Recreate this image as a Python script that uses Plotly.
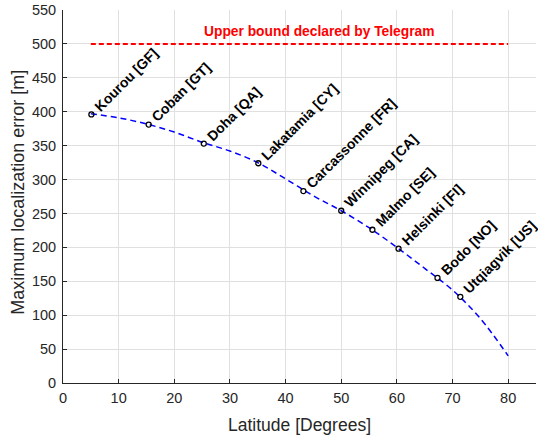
import plotly.graph_objects as go

# Cities: latitude [deg] and maximum localization error [m]
cities = ["Kourou [GF]", "Coban [GT]", "Doha [QA]", "Lakatamia [CY]",
          "Carcassonne [FR]", "Winnipeg [CA]", "Malmo [SE]", "Helsinki [FI]",
          "Bodo [NO]", "Utqiagvik [US]"]
city_lat = [5.1, 15.4, 25.3, 35.1, 43.2, 50.0, 55.6, 60.3, 67.3, 71.4]
city_err = [396, 381, 353, 324, 283, 254, 226, 198, 155, 127]

# Error trend versus latitude
curve_lat = [5, 10, 15, 20, 25, 30, 35, 40, 45, 50, 55, 60, 65, 70, 75, 80]
curve_err = [397, 391, 382, 370, 355, 342, 325, 301, 276, 254, 229, 200, 169, 137, 95, 40]

# Declared upper bound
bound_lat = [5, 80]
bound_err = [500, 500]
bound_label = "Upper bound declared by Telegram"

x_ticks = [0, 10, 20, 30, 40, 50, 60, 70, 80]
y_ticks = list(range(0, 551, 50))

FONT = "Liberation Sans, Arial, sans-serif"
AX = "#262626"
GRID = "#e0e0e0"

fig = go.Figure()

fig.add_trace(go.Scatter(
    x=bound_lat, y=bound_err, mode="lines",
    line=dict(color="#ff0000", width=2, dash="5px,3px"),
    hoverinfo="skip", showlegend=False))

fig.add_trace(go.Scatter(
    x=curve_lat, y=curve_err, mode="lines",
    line=dict(color="#0000ff", width=1.5, dash="6px,4px", shape="spline", smoothing=1.0),
    hoverinfo="skip", showlegend=False))

fig.add_trace(go.Scatter(
    x=city_lat, y=city_err, mode="markers",
    marker=dict(symbol="circle-open", size=5, color="black", line=dict(width=1.3)),
    text=cities, showlegend=False))

annotations = []
for name, lx, ly in zip(cities, city_lat, city_err):
    annotations.append(dict(
        x=lx, y=ly, xref="x", yref="y", text="<b>%s</b>" % name,
        showarrow=False, textangle=-45, xanchor="left", yanchor="bottom",
        xshift=-1.5, yshift=-1.5, borderpad=0,
        font=dict(family=FONT, size=14, color="black")))

annotations.append(dict(
    x=25.2, y=517.6, xref="x", yref="y", text="<b>%s</b>" % bound_label,
    showarrow=False, xanchor="left", yanchor="middle", borderpad=0,
    font=dict(family=FONT, size=13.8, color="#ff0000")))

# Axis titles
annotations.append(dict(
    x=0.5, y=-0.112, xref="paper", yref="paper", text="Latitude [Degrees]",
    showarrow=False, xanchor="center", yanchor="middle",
    font=dict(family=FONT, size=17.5, color=AX)))
annotations.append(dict(
    x=-0.095, y=0.51, xref="paper", yref="paper", text="Maximum localization error [m]",
    showarrow=False, xanchor="center", yanchor="middle", textangle=-90,
    font=dict(family=FONT, size=18, color=AX)))

axis_common = dict(
    showgrid=True, gridcolor=GRID, gridwidth=1,
    zeroline=False, showline=True, linecolor=AX, linewidth=1,
    ticks="inside", ticklen=4, tickcolor=AX, tickwidth=1,
    tickfont=dict(family=FONT, size=14.5, color=AX),
)

fig.update_layout(
    width=538, height=436,
    margin=dict(l=63, r=2, t=8, b=53),
    paper_bgcolor="white", plot_bgcolor="white",
    xaxis=dict(range=[0, 85], tickvals=x_ticks, ticklabelstandoff=2, **axis_common),
    yaxis=dict(range=[0, 550], tickvals=y_ticks, ticklabelstandoff=3, **axis_common),
    annotations=annotations,
    showlegend=False,
)

fig.write_html("out.html")
